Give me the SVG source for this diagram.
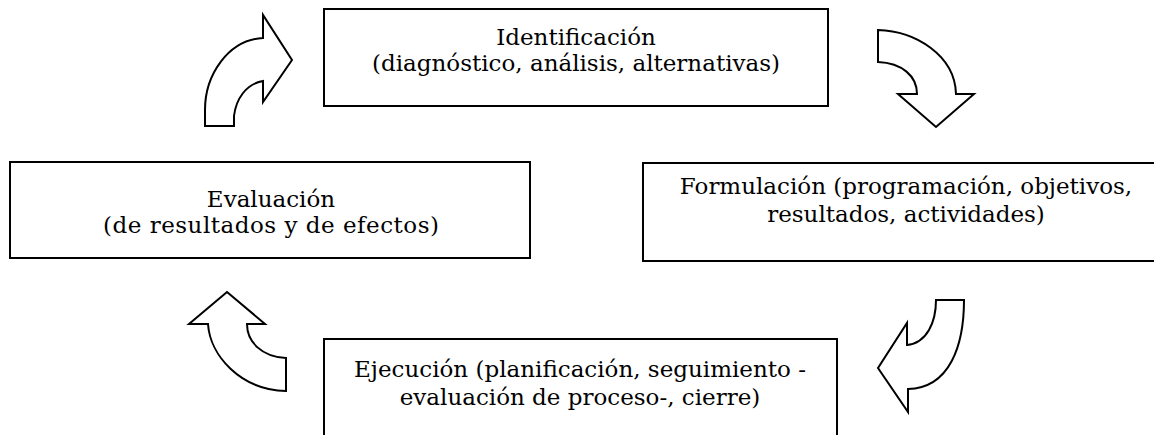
<svg xmlns="http://www.w3.org/2000/svg" width="1154" height="435" viewBox="0 0 1154 435">
<style>
.box{fill:#fff;stroke:#000;stroke-width:2}
.arr{fill:#fff;stroke:#000;stroke-width:2;stroke-linejoin:miter}
text{font-family:"DejaVu Serif","Liberation Serif",serif;font-size:23px;fill:#000;text-anchor:middle}
</style>
<rect width="1154" height="435" fill="#fff"/>
<g id="identificacion">
<rect class="box" x="324" y="9" width="504" height="97"/>
<text x="576" y="45">Identificación</text>
<text x="576" y="71">(diagnóstico, análisis, alternativas)</text>
</g>
<g id="formulacion">
<rect class="box" x="643" y="163" width="520" height="98"/>
<text x="906" y="194">Formulación (programación, objetivos,</text>
<text x="906" y="222">resultados, actividades)</text>
</g>
<g id="ejecucion">
<rect class="box" x="324" y="339" width="513" height="110"/>
<text x="580" y="377">Ejecución (planificación, seguimiento -</text>
<text x="580" y="405">evaluación de proceso-, cierre)</text>
</g>
<g id="evaluacion">
<rect class="box" x="10" y="162" width="520" height="96"/>
<text x="271" y="207">Evaluación</text>
<text x="271" y="233" textLength="336" lengthAdjust="spacing">(de resultados y de efectos)</text>
</g>
<g id="connectors">
<path class="arr" d="M205,126 L234,126 L234,116 C 236,99 246,84 263,81 L263,102 L292,60 L263,15 L263,38 C 228,40 205,75 205,110 Z"/>
<path class="arr" d="M878,30 C 915,31 955,55 956,94 L974,94 L936,127 L898,94 L917,94 C 917,76 902,63 878,62 Z"/>
<path class="arr" d="M936,300 L964,300 C 964,345 950,388 908,389 L908,412 L878,368 L907,323 L907,345 C 927,343 936,322 936,300 Z"/>
<path class="arr" d="M227,292 L265,324 L247,324 C 247,342 262,357 286,358 L286,391 C 240,390 210,355 208,324 L189,324 Z"/>
</g>
</svg>
